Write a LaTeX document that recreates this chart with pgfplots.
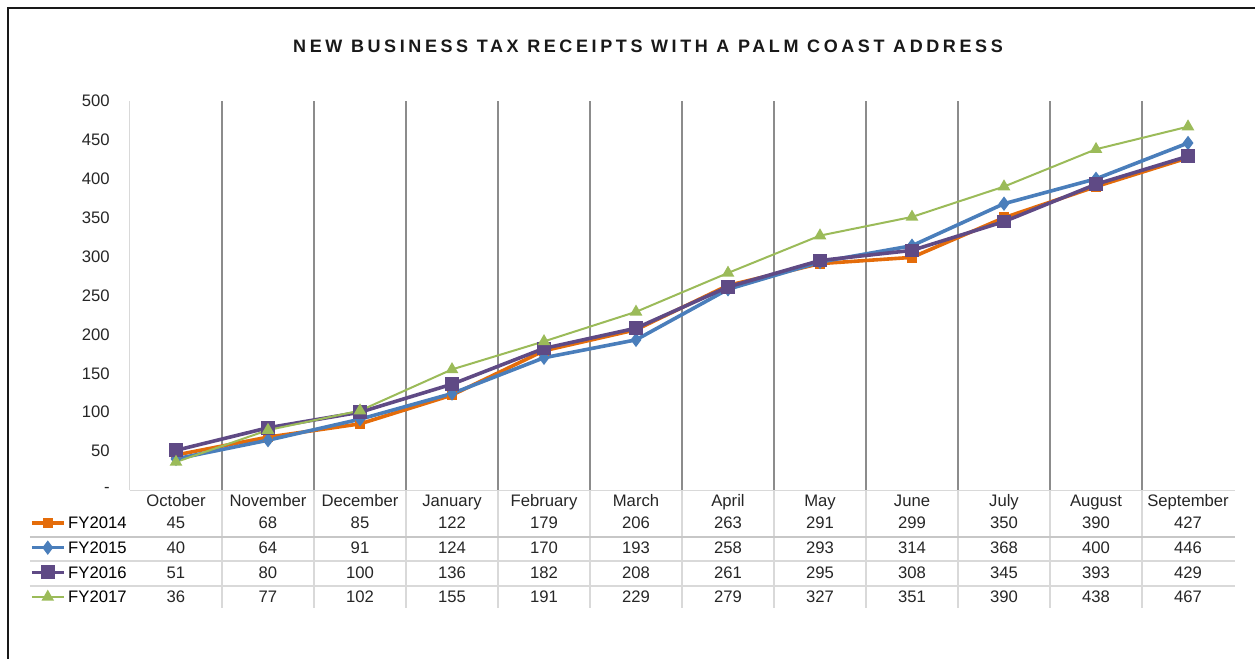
\documentclass[border=0pt]{standalone}
\usepackage{pgfplots}
\usepackage{pgfplotstable}
\pgfplotsset{compat=1.18}
\usepackage{fontspec}
\setmainfont{Liberation Sans}
\newfontfamily\titlefont[LetterSpace=20]{Liberation Sans}
\definecolor{c14}{HTML}{E46C0A}
\definecolor{c15}{HTML}{4A7EBB}
\definecolor{c16}{HTML}{5F4A85}
\definecolor{c17}{HTML}{9BBB59}
\definecolor{gridd}{HTML}{8C8C8C}
\definecolor{gridl}{HTML}{D9D9D9}
\pgfplotstableread{
x    m          fya fyb fyc fyd
0.5  October    45  40  51  36
1.5  November   68  64  80  77
2.5  December   85  91  100 102
3.5  January    122 124 136 155
4.5  February   179 170 182 191
5.5  March      206 193 208 229
6.5  April      263 258 261 279
7.5  May        291 293 295 327
8.5  June       299 314 308 351
9.5  July       350 368 345 390
10.5 August     390 400 393 438
11.5 September  427 446 429 467
}\data
\newcommand{\fs}{\fontsize{12.5}{15}\selectfont}
\begin{document}
\begin{tikzpicture}
\useasboundingbox (-97.5pt,-126pt) rectangle (843.75pt,367.5pt);
\begin{axis}[
  scale only axis, width=828pt, height=291.75pt,
  xmin=0, xmax=12, ymin=0, ymax=500,
  clip=false,
  axis x line*=bottom, axis y line*=left,
  axis line style={gridl, line width=0.75pt, -},
  xtick={0.5,1.5,...,11.5},
  xticklabels={October,November,December,January,February,March,April,May,June,July,August,September},
  minor xtick={1,...,11},
  minor x grid style={gridd, line width=1pt},
  xminorgrids=true,
  ytick={0,50,...,500},
  yticklabels={{-\hspace{6pt}},50,100,150,200,250,300,350,400,450,500},
  major tick length=0pt, minor tick length=0pt,
  tick label style={font=\fs, text=black!85},
  /pgf/number format/assume math mode=true,
  xticklabel style={anchor=base, yshift=-12pt},
  yticklabel style={anchor=east, inner sep=0pt, xshift=-15pt},
  legend style={draw=none, fill=none, inner sep=0pt, outer sep=0pt,
    at={(-0.0906,-0.0531)}, anchor=north west,
    row sep=0pt, column sep=2pt,
    nodes={inner sep=0pt, text height=13.75pt, text depth=4.75pt},
    font=\fs},
  legend cell align=left,
  legend image code/.code={\draw[#1, mark repeat=2, mark phase=2] plot coordinates {(0pt,0pt)(12pt,0pt)(24pt,0pt)};},
]
\addplot[c14, line width=2.7pt, mark=square*, mark size=2.6pt, mark options={solid}] table[x=x,y=fya]{\data};
\addlegendentry{FY2014}
\addplot[c15, line width=2.7pt, mark=diamond*, mark size=3.2pt, mark options={solid}] table[x=x,y=fyb]{\data};
\addlegendentry{FY2015}
\addplot[c16, line width=2.7pt, mark=square*, mark size=3.8pt, mark options={solid}] table[x=x,y=fyc]{\data};
\addlegendentry{FY2016}
\addplot[c17, line width=1.5pt, mark=triangle*, mark size=4pt, mark options={solid}] table[x=x,y=fyd]{\data};
\addlegendentry{FY2017}
% table lines
\pgfplotsinvokeforeach{1,...,11}{\draw[gridl, line width=1pt] (axis cs:#1,0) -- (axis cs:#1,-151.7);}
\draw[black!22, line width=1.3pt] (axis cs:-1.087,-60.4) -- (axis cs:12.01,-60.4);
\draw[gridl, line width=1pt] (axis cs:-1.087,-91.3) -- (axis cs:12.01,-91.3);
\draw[gridl, line width=1pt] (axis cs:-1.087,-123.4) -- (axis cs:12.01,-123.4);
\draw[gridl, line width=0.75pt] (axis cs:12,0) -- (axis cs:12.01,0);
% table values
\pgfplotsset{tbl/.style={draw=none, mark=none, forget plot, nodes near coords, point meta=explicit,
  every node near coord/.style={anchor=center, inner sep=0pt, font=\fs, text=black!85}}}
\addplot[tbl] table[x=x, y expr=-42.4, meta=fya]{\data};
\addplot[tbl] table[x=x, y expr=-74.5, meta=fyb]{\data};
\addplot[tbl] table[x=x, y expr=-106.7, meta=fyc]{\data};
\addplot[tbl] table[x=x, y expr=-137.5, meta=fyd]{\data};
\end{axis}
\draw[black!90, line width=1.6pt] (-91.5pt,-140pt) -- (-91.5pt,361.5pt) -- (860pt,361.5pt);
\node[font=\titlefont\fontsize{13.5}{16}\selectfont\bfseries, text=black!90] at (388.5pt,333pt) {NEW BUSINESS TAX RECEIPTS WITH A PALM COAST ADDRESS};
\end{tikzpicture}
\end{document}
